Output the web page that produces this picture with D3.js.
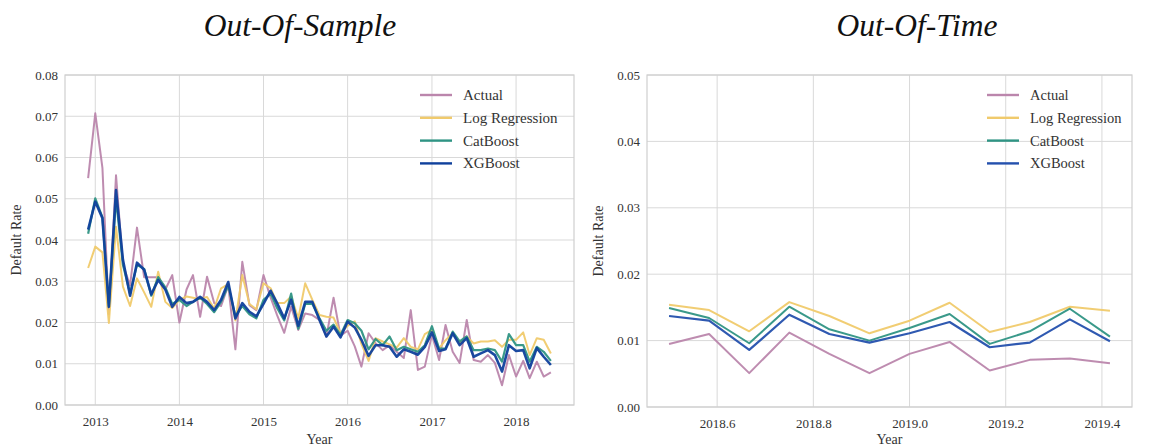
<!DOCTYPE html>
<html>
<head>
<meta charset="utf-8">
<script src="https://cdn.jsdelivr.net/npm/d3@7"></script>
<style>
  html, body { margin: 0; padding: 0; background: #fff; }
  svg { display: block; }
  .tick text { font-family: "Liberation Serif", "DejaVu Serif", serif; font-size: 13px; fill: #333; }
  .title { font-family: "Liberation Serif", serif; font-style: italic; font-size: 31.5px; fill: #111; }
  .axlabel { font-family: "Liberation Serif", serif; font-size: 14px; fill: #333; }
  .legend text { font-family: "Liberation Serif", serif; fill: #333; }
</style>
</head>
<body>
<svg id="chart" width="1154" height="448"></svg>
<script>
// ---- Out-Of-Sample: monthly default rates, Dec 2012 .. Jun 2018 ----
const oosStart = new Date(2012, 11, 1);
const oosEnd = new Date(2018, 5, 1);
const oosMonths = d3.timeMonth.range(oosStart, d3.timeMonth.offset(oosEnd, 1));

const oosActual = [
  0.0550, 0.0707, 0.0575, 0.0220, 0.0557, 0.0340, 0.0290, 0.0430, 0.0310, 0.0310,
  0.0310, 0.0280, 0.0315, 0.0200, 0.0280, 0.0315, 0.0214, 0.0311, 0.0247, 0.0240,
  0.0290, 0.0135, 0.0347, 0.0242, 0.0230, 0.0315, 0.0260, 0.0218, 0.0175, 0.0238,
  0.0182, 0.0222, 0.0218, 0.0206, 0.0166, 0.0260, 0.0168, 0.0180, 0.0142, 0.0093,
  0.0174, 0.0150, 0.0133, 0.0145, 0.0129, 0.0114, 0.0230, 0.0085, 0.0093, 0.0170,
  0.0109, 0.0194, 0.0129, 0.0102, 0.0206, 0.0109, 0.0105, 0.0121, 0.0102, 0.0048,
  0.0121, 0.0069, 0.0107, 0.0065, 0.0105, 0.0069, 0.0079
];
const oosLogReg = [
  0.0332, 0.0384, 0.0370, 0.0199, 0.0432, 0.0287, 0.0240, 0.0307, 0.0273, 0.0238,
  0.0323, 0.0250, 0.0235, 0.0255, 0.0263, 0.0260, 0.0257, 0.0262, 0.0234, 0.0283,
  0.0293, 0.0205, 0.0315, 0.0245, 0.0232, 0.0295, 0.0283, 0.0247, 0.0247, 0.0263,
  0.0210, 0.0295, 0.0255, 0.0218, 0.0214, 0.0212, 0.0174, 0.0192, 0.0203, 0.0148,
  0.0107, 0.0162, 0.0154, 0.0147, 0.0139, 0.0162, 0.0141, 0.0135, 0.0172, 0.0182,
  0.0137, 0.0157, 0.0174, 0.0149, 0.0166, 0.0149, 0.0154, 0.0154, 0.0157, 0.0141,
  0.0158, 0.0158, 0.0176, 0.0121, 0.0162, 0.0158, 0.0125
];
const oosCatBoost = [
  0.0415, 0.0501, 0.0455, 0.0240, 0.0500, 0.0340, 0.0270, 0.0340, 0.0330, 0.0265,
  0.0310, 0.0285, 0.0245, 0.0255, 0.0240, 0.0250, 0.0260, 0.0245, 0.0225, 0.0250,
  0.0290, 0.0215, 0.0240, 0.0220, 0.0210, 0.0255, 0.0270, 0.0235, 0.0205, 0.0270,
  0.0185, 0.0245, 0.0245, 0.0210, 0.0180, 0.0195, 0.0170, 0.0206, 0.0198, 0.0180,
  0.0135, 0.0160, 0.0145, 0.0166, 0.0133, 0.0141, 0.0135, 0.0129, 0.0145, 0.0191,
  0.0137, 0.0137, 0.0178, 0.0154, 0.0166, 0.0133, 0.0133, 0.0137, 0.0133, 0.0105,
  0.0172, 0.0145, 0.0145, 0.0105, 0.0141, 0.0129, 0.0107
];
const oosXGBoost = [
  0.0425, 0.0493, 0.0453, 0.0238, 0.0521, 0.0352, 0.0265, 0.0345, 0.0328, 0.0268,
  0.0303, 0.0280, 0.0238, 0.0262, 0.0247, 0.0250, 0.0262, 0.0250, 0.0230, 0.0255,
  0.0298, 0.0210, 0.0247, 0.0226, 0.0215, 0.0245, 0.0277, 0.0247, 0.0210, 0.0255,
  0.0192, 0.0250, 0.0250, 0.0206, 0.0166, 0.0190, 0.0164, 0.0202, 0.0188, 0.0158,
  0.0119, 0.0145, 0.0145, 0.0141, 0.0117, 0.0135, 0.0129, 0.0122, 0.0141, 0.0176,
  0.0131, 0.0135, 0.0174, 0.0145, 0.0162, 0.0117, 0.0125, 0.0133, 0.0121, 0.0081,
  0.0145, 0.0131, 0.0133, 0.0089, 0.0138, 0.0117, 0.0097
];

// ---- Out-Of-Time: Jul 2018 .. Jun 2019, x as decimal year ----
const ootYears = [2018.5, 2018.5833, 2018.6667, 2018.75, 2018.8333, 2018.9167,
                  2019.0, 2019.0833, 2019.1667, 2019.25, 2019.3333, 2019.4167];
const ootActual = [0.0095, 0.0110, 0.0051, 0.0112, 0.0080, 0.0051, 0.0080, 0.0098, 0.0055, 0.0071, 0.0073, 0.0066];
const ootLogReg = [0.0154, 0.0146, 0.0114, 0.0158, 0.0137, 0.0111, 0.0130, 0.0157, 0.0113, 0.0128, 0.0151, 0.0145];
const ootCatBoost = [0.0149, 0.0134, 0.0096, 0.0151, 0.0117, 0.0100, 0.0119, 0.0140, 0.0095, 0.0114, 0.0148, 0.0106];
const ootXGBoost = [0.0137, 0.0130, 0.0086, 0.0139, 0.0110, 0.0097, 0.0111, 0.0128, 0.0090, 0.0097, 0.0132, 0.0099];

const seriesNames = ["Actual", "Log Regression", "CatBoost", "XGBoost"];
const leftColors = ["#bb86ac", "#f0ca6c", "#2f9484", "#0f409c"];
const rightColors = ["#bb86ac", "#f0ca6c", "#2f9484", "#2450ad"];

const leftYTicks = [0, 0.01, 0.02, 0.03, 0.04, 0.05, 0.06, 0.07, 0.08];
const rightYTicks = [0, 0.01, 0.02, 0.03, 0.04, 0.05];
const leftXTicks = [2013, 2014, 2015, 2016, 2017, 2018];
const rightXTicks = [2018.6, 2018.8, 2019.0, 2019.2, 2019.4];

const svg = d3.select("#chart");

function padDomain(lo, hi) {
  const m = (hi - lo) * 0.05;
  return [lo - m, hi + m];
}

function panel(opts) {
  const { left, right, top, bottom, x, y, xTicks, xFormat, yTicks, xs, series, title, widths, colors, legendX, legendFont } = opts;
  const g = svg.append("g");

  // grid
  g.append("g").selectAll("line").data(yTicks).join("line")
    .attr("x1", left).attr("x2", right)
    .attr("y1", d => y(d)).attr("y2", d => y(d))
    .attr("stroke", "#d9d9d9").attr("stroke-width", 1);
  g.append("g").selectAll("line").data(xTicks).join("line")
    .attr("x1", d => x(d)).attr("x2", d => x(d))
    .attr("y1", top).attr("y2", bottom)
    .attr("stroke", "#d9d9d9").attr("stroke-width", 1);

  // frame
  g.append("rect").attr("x", left).attr("y", top)
    .attr("width", right - left).attr("height", bottom - top)
    .attr("fill", "none").attr("stroke", "#cfcfcf").attr("stroke-width", 1.2);

  // axes (labels only)
  const ya = g.append("g").attr("transform", `translate(${left},0)`)
    .call(d3.axisLeft(y).tickValues(yTicks).tickFormat(d3.format(".2f")).tickSize(0).tickPadding(7));
  ya.select(".domain").remove();
  const xa = g.append("g").attr("transform", `translate(0,${bottom})`)
    .call(d3.axisBottom(x).tickValues(xTicks).tickFormat(xFormat).tickSize(0).tickPadding(12));
  xa.select(".domain").remove();

  // lines
  const clipId = "clip" + Math.round(left);
  svg.append("clipPath").attr("id", clipId).append("rect")
    .attr("x", left).attr("y", top).attr("width", right - left).attr("height", bottom - top);
  const lines = g.append("g").attr("clip-path", `url(#${clipId})`);
  series.forEach((vals, k) => {
    const line = d3.line().x((d, i) => x(xs[i])).y(d => y(d));
    lines.append("path").datum(vals)
      .attr("d", line)
      .attr("fill", "none")
      .attr("stroke", colors[k])
      .attr("stroke-width", widths[k])
      .attr("stroke-linejoin", "round")
      .attr("stroke-opacity", 0.95);
  });

  // legend
  const lg = g.append("g").attr("class", "legend");
  seriesNames.forEach((name, k) => {
    const yy = 95 + k * 22.8;
    lg.append("line").attr("x1", legendX).attr("x2", legendX + 32)
      .attr("y1", yy).attr("y2", yy)
      .attr("stroke", colors[k]).attr("stroke-width", 2.4);
    lg.append("text").attr("x", legendX + 43).attr("y", yy + 5)
      .style("font-size", legendFont + "px").text(name);
  });

  // titles and axis labels
  g.append("text").attr("class", "title").attr("text-anchor", "middle")
    .attr("x", title.x).attr("y", 36).text(title.text);
  g.append("text").attr("class", "axlabel").attr("text-anchor", "middle")
    .attr("x", (left + right) / 2).attr("y", 444).text("Year");
  g.append("text").attr("class", "axlabel").attr("text-anchor", "middle")
    .attr("transform", `translate(${opts.ylabelX},${(top + bottom) / 2}) rotate(-90)`)
    .text("Default Rate");
}

// Left panel
{
  const left = 65, right = 574, top = 75, bottom = 405;
  const dom = padDomain(+oosMonths[0], +oosMonths[oosMonths.length - 1]);
  const x = d3.scaleTime().domain([new Date(dom[0]), new Date(dom[1])]).range([left, right]);
  const y = d3.scaleLinear().domain([0, 0.08]).range([bottom, top]);
  panel({
    left, right, top, bottom, x, y,
    xTicks: leftXTicks.map(yr => new Date(yr, 0, 1)),
    xFormat: d3.timeFormat("%Y"),
    yTicks: leftYTicks,
    xs: oosMonths,
    series: [oosActual, oosLogReg, oosCatBoost, oosXGBoost],
    widths: [2, 2, 2.2, 2.6],
    colors: leftColors,
    title: { x: 300, text: "Out-Of-Sample" },
    legendX: 420,
    legendFont: 15,
    ylabelX: 21
  });
}

// Right panel
{
  const left = 647, right = 1132, top = 75, bottom = 407;
  const dom = padDomain(ootYears[0], ootYears[ootYears.length - 1]);
  const x = d3.scaleLinear().domain(dom).range([left, right]);
  const y = d3.scaleLinear().domain([0, 0.05]).range([bottom, top]);
  panel({
    left, right, top, bottom, x, y,
    xTicks: rightXTicks,
    xFormat: d3.format(".1f"),
    yTicks: rightYTicks,
    xs: ootYears,
    series: [ootActual, ootLogReg, ootCatBoost, ootXGBoost],
    widths: [2, 2, 2, 2.2],
    colors: rightColors,
    title: { x: 917, text: "Out-Of-Time" },
    legendX: 987,
    legendFont: 14.5,
    ylabelX: 603
  });
}
</script>
</body>
</html>
